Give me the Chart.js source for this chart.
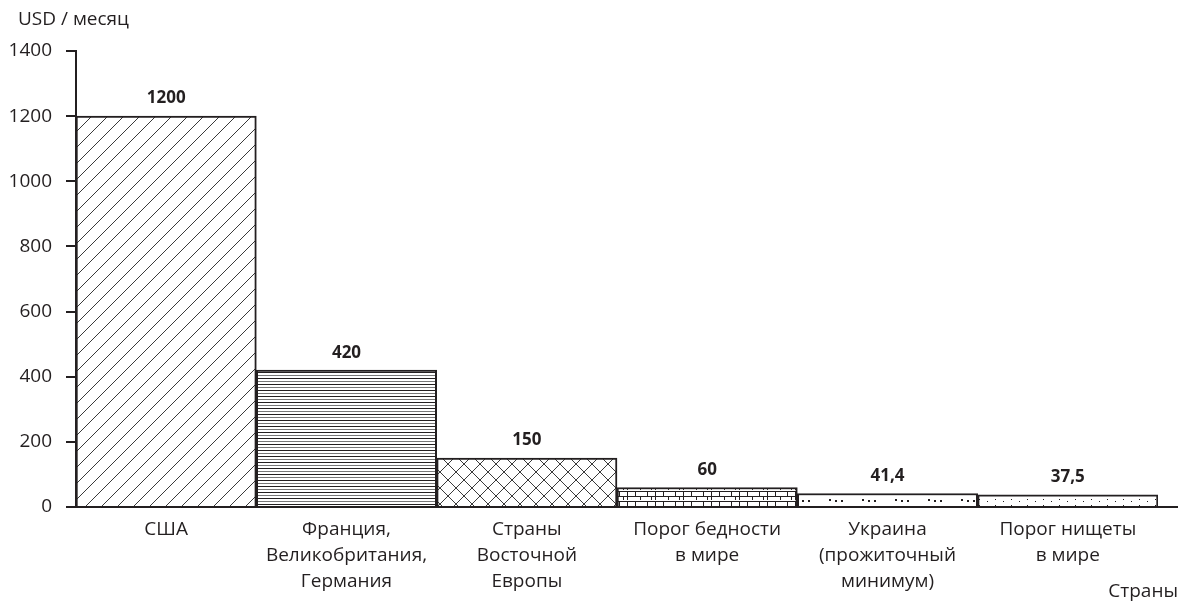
<!DOCTYPE html>
<html>
<head>
<meta charset="utf-8">
<script src="https://cdn.jsdelivr.net/npm/chart.js@4.4.0/dist/chart.umd.min.js"></script>
<style>
  html, body { margin: 0; padding: 0; background: #fff; }
  #wrap { width: 1184px; height: 604px; position: relative; }
</style>
</head>
<body>
<div id="wrap"><canvas id="bar-chart" width="1184" height="604"></canvas></div>
<script>
// chart data
var countries = [
  'США',
  ['Франция,', 'Великобритания,', 'Германия'],
  ['Страны', 'Восточной', 'Европы'],
  ['Порог бедности', 'в мире'],
  ['Украина', '(прожиточный', 'минимум)'],
  ['Порог нищеты', 'в мире']
];
var income = [1200, 420, 150, 60, 41.4, 37.5];
var value_labels = ['1200', '420', '150', '60', '41,4', '37,5'];
var y_ticks = [0, 200, 400, 600, 800, 1000, 1200, 1400];
var y_title = 'USD / месяц';
var x_title = 'Страны';

var FONT = '"Open Sans", "Noto Sans", sans-serif';
var INK = '#231f20';

function makeTile(w, h, draw) {
  var c = document.createElement('canvas');
  c.width = w; c.height = h;
  var g = c.getContext('2d');
  g.fillStyle = '#fff';
  g.fillRect(0, 0, w, h);
  g.strokeStyle = '#3a3a3a';
  g.fillStyle = INK;
  draw(g);
  return document.getElementById('bar-chart').getContext('2d').createPattern(c, 'repeat');
}

// hatch patterns, one for every bar
var patterns = [
  makeTile(16, 16, function(g){ // diagonal
    g.lineWidth = 1;
    g.beginPath();
    g.moveTo(-2, 18); g.lineTo(18, -2);
    g.moveTo(-2, 2); g.lineTo(2, -2);
    g.moveTo(14, 18); g.lineTo(18, 14);
    g.stroke();
  }),
  makeTile(8, 6, function(g){ // horizontal lines
    g.fillRect(0, 0, 8, 1);
    g.fillStyle = '#777';
    g.fillRect(0, 3, 8, 1);
  }),
  makeTile(16, 16, function(g){ // cross hatch
    g.lineWidth = 1;
    g.beginPath();
    g.moveTo(-2, 18); g.lineTo(18, -2);
    g.moveTo(-2, -2); g.lineTo(18, 18);
    g.moveTo(-2, 2); g.lineTo(2, -2);
    g.moveTo(14, 18); g.lineTo(18, 14);
    g.moveTo(14, -2); g.lineTo(18, 2);
    g.moveTo(-2, 14); g.lineTo(2, 18);
    g.stroke();
  }),
  makeTile(28, 10, function(g){ // brick-like
    g.fillRect(0, 1, 28, 1);
    g.fillRect(0, 6, 28, 1);
    g.fillRect(3, 1, 1, 5);
    g.fillRect(11, 2, 1, 9);
    g.fillRect(19, 1, 1, 5);
    g.fillRect(24, 6, 1, 4);
    g.fillRect(7, 6, 1, 4);
  }),
  makeTile(33, 8, function(g){ // sparse dots
    g.fillRect(4, 3, 2, 2);
    g.fillRect(10, 4, 2, 2);
    g.fillRect(16, 4, 2, 2);
  }),
  makeTile(16, 6, function(g){ // fine dots
    g.fillRect(3, 1, 1, 1);
    g.fillRect(11, 3, 1, 1);
  })
];

var decor = {
  id: 'decor',
  afterDraw: function(chart) {
    var ctx = chart.ctx;
    var xs = chart.scales.x, ys = chart.scales.y;
    var y0 = ys.getPixelForValue(0);
    ctx.save();
    // x axis line
    ctx.strokeStyle = INK;
    ctx.lineWidth = 2;
    ctx.beginPath();
    ctx.moveTo(xs.left - 10, y0);
    ctx.lineTo(1178, y0);
    ctx.stroke();
    // value labels
    ctx.fillStyle = INK;
    ctx.font = 'bold 17px ' + FONT;
    ctx.textAlign = 'center';
    ctx.textBaseline = 'bottom';
    chart.getDatasetMeta(0).data.forEach(function(bar, i) {
      ctx.fillText(value_labels[i], bar.x, bar.y - 9);
    });
    // axis titles
    ctx.font = '19px ' + FONT;
    ctx.textAlign = 'left';
    ctx.textBaseline = 'middle';
    ctx.fillText(y_title, 18, 20);
    ctx.textAlign = 'right';
    ctx.fillText(x_title, 1178, 592);
    ctx.restore();
  }
};

var chartid = document.getElementById('bar-chart').getContext('2d');
var myChart = new Chart(chartid, {
  type: 'bar',
  data: {
    labels: countries,
    datasets: [{
      data: income,
      backgroundColor: patterns,
      borderColor: INK,
      borderWidth: 2,
      borderSkipped: 'bottom',
      barPercentage: 1.0,
      categoryPercentage: 1.0
    }]
  },
  plugins: [decor],
  options: {
    responsive: false,
    animation: false,
    events: [],
    layout: { padding: { top: 51, right: 26, left: 0, bottom: 0 } },
    plugins: { legend: { display: false }, tooltip: { enabled: false } },
    scales: {
      x: {
        grid: { display: false },
        border: { display: false },
        ticks: {
          color: INK,
          font: { family: FONT, size: 19, lineHeight: 1.37 },
          maxRotation: 0,
          autoSkip: false,
          padding: 2
        },
        afterFit: function(s) { s.height = 97; }
      },
      y: {
        min: 0,
        max: 1400,
        afterBuildTicks: function(s) { s.ticks = y_ticks.map(function(v){ return { value: v }; }); },
        grid: { drawOnChartArea: false, drawTicks: true, tickLength: 10, color: INK, lineWidth: 2 },
        border: { display: true, color: INK, width: 2 },
        ticks: {
          color: INK,
          font: { family: FONT, size: 19 },
          padding: 14,
          callback: function(v) { return String(v); }
        },
        afterFit: function(s) { s.width = 76; }
      }
    }
  }
});
</script>
</body>
</html>
